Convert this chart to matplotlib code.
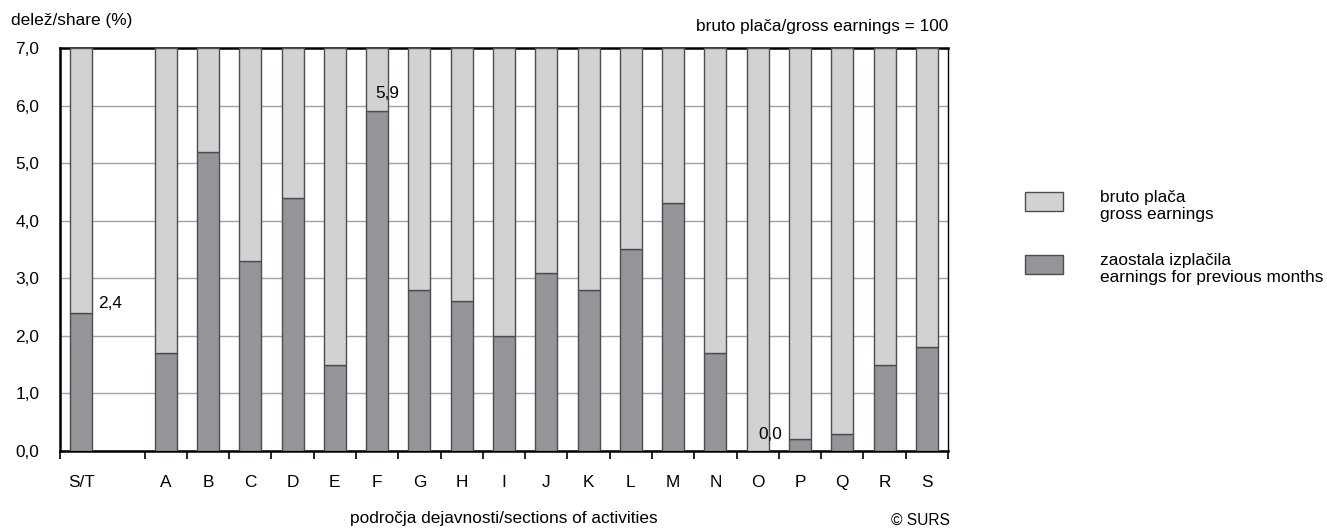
import matplotlib
matplotlib.use("Agg")
import matplotlib.pyplot as plt
from matplotlib.patches import Rectangle
from matplotlib import font_manager

names = {f.name for f in font_manager.fontManager.ttflist}
if "Liberation Sans Narrow" in names:
    FAMILY = ["Liberation Sans Narrow", "Liberation Sans", "DejaVu Sans"]
    FS = 14.5
else:
    FAMILY = ["Liberation Sans", "DejaVu Sans"]
    FS = 12.4
plt.rcParams['font.family'] = FAMILY

categories = ["S/T", "A", "B", "C", "D", "E", "F", "G", "H", "I", "J", "K", "L", "M", "N", "O", "P", "Q", "R", "S"]
positions = [0, 2, 3, 4, 5, 6, 7, 8, 9, 10, 11, 12, 13, 14, 15, 16, 17, 18, 19, 20]
previous_months = [2.4, 1.7, 5.2, 3.3, 4.4, 1.5, 5.9, 2.8, 2.6, 2.0, 3.1, 2.8, 3.5, 4.3, 1.7, 0.0, 0.2, 0.3, 1.5, 1.8]
axis_top = 7.0
labelled = {"S/T": "2,4", "F": "5,9", "O": "0,0"}

light = "#d1d2d4"
dark = "#939598"
edge = "#4d4d4f"

W, H = 1327, 528
fig = plt.figure(figsize=(W/100, H/100), dpi=100)
ax = fig.add_axes([60/W, 1 - 451/H, (948-60)/W, (451-48)/H])

w = 0.52
gross = [axis_top - v for v in previous_months]
ax.bar(positions, previous_months, width=w, color=dark, edgecolor=edge, linewidth=1.0, zorder=3)
ax.bar(positions, gross, bottom=previous_months, width=w, color=light, edgecolor=edge, linewidth=1.0, zorder=3)

offsets = {"S/T": (0.4, 0.09, "left"), "F": (0.24, 0.23, "center"), "O": (0.3, 0.21, "center")}
for c, p, v in zip(categories, positions, previous_months):
    if c in labelled:
        dx, dy, ha = offsets[c]
        ax.text(p + dx, v + dy, labelled[c], fontsize=FS, ha=ha, va="baseline", zorder=5)

ax.set_xlim(-0.5, 20.5)
ax.set_ylim(0, 7.0)
ax.set_yticks([i for i in range(8)])
ax.set_yticklabels([f"{i},0" for i in range(8)], fontsize=FS)
ax.yaxis.grid(True, color="#a3a3a3", linewidth=1.0, zorder=0)
ax.set_axisbelow(True)

boundaries = [-0.5, 1.5] + [p + 0.5 for p in positions[1:]]
ax.set_xticks(boundaries)
ax.set_xticklabels([])
ax.set_xticks(positions, minor=True)
ax.set_xticklabels(categories, minor=True, fontsize=FS)
ax.tick_params(axis="x", which="major", direction="out", length=6, width=1.2, color="black")
ax.tick_params(axis="x", which="minor", length=0, pad=17)
ax.tick_params(axis="y", length=0, pad=15)

for s in ["left", "bottom", "top"]:
    ax.spines[s].set_linewidth(1.8)
    ax.spines[s].set_color("black")
ax.spines["right"].set_linewidth(1.0)
ax.spines["right"].set_color("black")

fig.text(504/W, 1 - 519/H, "področja dejavnosti/sections of activities", fontsize=FS, ha="center", va="center")
fig.text(950/W, 1 - 520/H, "© SURS", fontsize=FS * 0.9, ha="right", va="center")
fig.text(11/W, 1 - 20/H, "delež/share (%)", fontsize=FS, ha="left", va="center")
fig.text(948/W, 1 - 26/H, "bruto plača/gross earnings = 100", fontsize=FS, ha="right", va="center")

# legend drawn manually
legend_items = [(light, "bruto plača\ngross earnings", 192, 206),
                (dark, "zaostala izplačila\nearnings for previous months", 255, 269)]
for col, lab, ytop, ytext in legend_items:
    fig.patches.append(Rectangle((1025/W, 1 - (ytop + 19)/H), 38/W, 19/H, transform=fig.transFigure,
                                 facecolor=col, edgecolor=edge, linewidth=1.0))
    fig.text(1100/W, 1 - ytext/H, lab, fontsize=FS, ha="left", va="center", linespacing=1.1)

fig.savefig("out.png", dpi=100)
